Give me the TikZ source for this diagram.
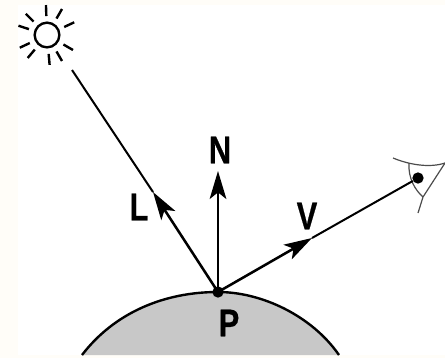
\documentclass[tikz,border=0pt]{standalone}
\usepackage{fontspec}
\setmainfont{Liberation Sans}[FakeStretch=0.8, BoldFeatures={FakeBold=0.5}]
\usetikzlibrary{arrows.meta,calc}
\definecolor{margincream}{HTML}{FFFDF8}
\definecolor{surfgray}{HTML}{C8C8C8}

\begin{document}
\begin{tikzpicture}[
  x=0.75pt, y=-0.75pt,
  >={Stealth[length=21pt, width=12.5pt, inset=5pt]},
  every node/.style={font=\fontsize{29}{29}\selectfont\bfseries},
  dot/.style={circle, fill=black, inner sep=0pt, minimum size=#1},
  ray/.style={line width=1.8pt},
  lid/.style={line width=0.9pt, black!70},
  vec/.style={->, line width=1.9pt},
]
\useasboundingbox (0,0) rectangle (445,358);
\fill[margincream] (0,0) rectangle (445,358);
\fill[white] (18,5) rectangle (445,355);

% surface
\coordinate (surfL) at (82,355);
\coordinate (surfT) at (218,292);
\coordinate (surfR) at (339,355);
\draw[line width=1.8pt, fill=surfgray] (surfL) .. controls (115,312) and (165,292) .. (surfT)
  .. controls (262,292) and (312,316) .. (surfR);
\node[dot=8.5pt] (P) at (surfT) {};

% sun
\node[circle, draw, line width=1.8pt, minimum size=18.5pt, inner sep=0pt] (sun) at (47,35) {};
\foreach \ang in {92,60,25,-30,-60,-85,-130,-155,162,135}
  \draw[ray] ($(sun.center)+(\ang:19 and -19)$) -- ($(sun.center)+(\ang:30 and -30)$);

% eye
\node[dot=8.5pt] (eye) at (418,178) {};
\coordinate (lidA) at (393,158);
\coordinate (lidB) at (445,163);
\coordinate (lidC) at (409,163);
\coordinate (lidD) at (423,197);
\coordinate (lidE) at (418,213);
\draw[lid] (lidA) .. controls (410,165) and (430,168) .. (lidB);
\draw[lid] (lidC) .. controls (408,178) and (415,190) .. (lidD);
\draw[lid] (lidB) -- (lidD) -- (lidE);

% vectors
\coordinate (lightEnd) at (72,70);
\coordinate (tipL) at (153,192);
\coordinate (tipN) at (218,171);
\coordinate (tipV) at (312,238);
\draw[line width=1.5pt] (lightEnd) -- (tipL);
\draw[line width=1.5pt] (tipV) -- (eye);
\draw[vec] (P.center) -- (tipL);
\draw[vec] (P.center) -- (tipN);
\draw[vec] (P.center) -- (tipV);

\node (labN) at (220,150) {N};
\node (labL) at (139,207) {L};
\node (labV) at (307,216) {V};
\node (labP) at (229,323) {P};
\end{tikzpicture}
\end{document}
